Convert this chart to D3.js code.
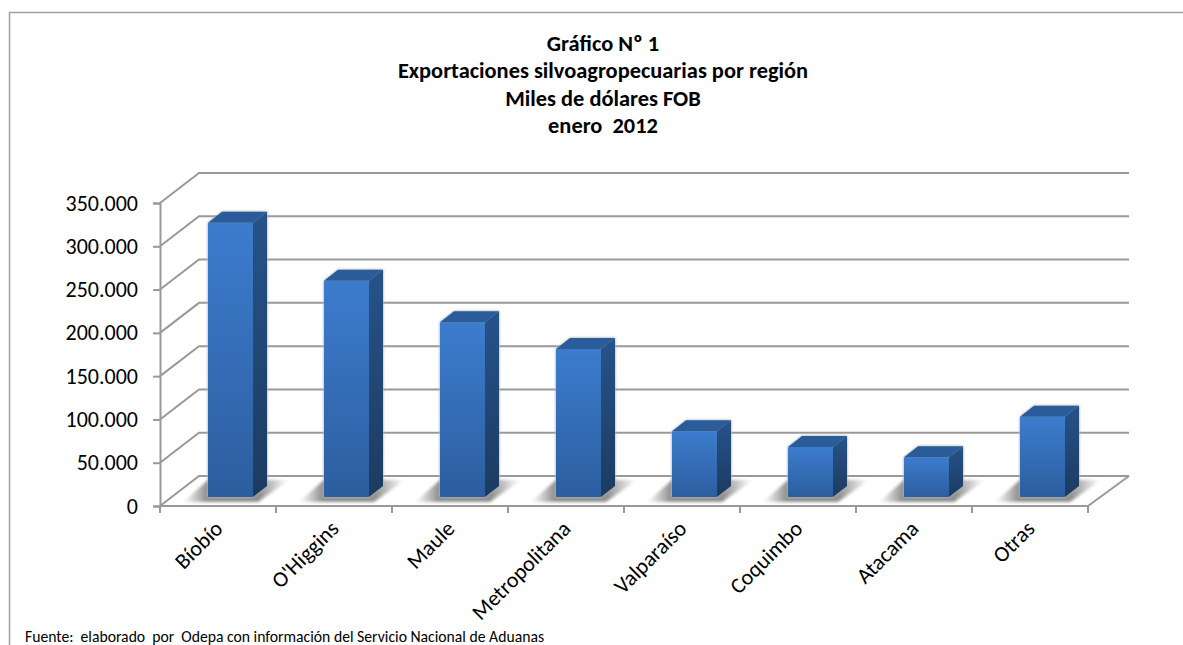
<!DOCTYPE html>
<html>
<head>
<meta charset="utf-8">
<script src="https://cdn.jsdelivr.net/npm/d3@7"></script>
<style>
  body { margin: 0; background: #fff; }
  svg { display: block; }
  text { font-family: Carlito, Lato, "Noto Sans", sans-serif; white-space: pre; }
</style>
</head>
<body>
<div id="chart"></div>
<script>
// Exportaciones por region, columnas 3D estilo Excel
var regions = ['Bíobío', "O'Higgins", 'Maule', 'Metropolitana', 'Valparaíso', 'Coquimbo', 'Atacama', 'Otras'];
var exports_ = [316800, 249800, 202000, 171000, 76000, 57800, 46000, 92700];
var yTicks = [0, 50000, 100000, 150000, 200000, 250000, 300000, 350000];
var yTickLabels = ['0', '50.000', '100.000', '150.000', '200.000', '250.000', '300.000', '350.000'];
var titleLines = ['Gráfico Nº 1', 'Exportaciones silvoagropecuarias por región', 'Miles de dólares FOB', 'enero  2012'];
var source = 'Fuente:  elaborado  por  Odepa con información del Servicio Nacional de Aduanas';

var w = 1183;
var h = 645;
var depthX = 39;   // wall offset
var depthY = 30;
var barDepthX = 14;
var barDepthY = 11;
var gridColor = '#999999';

var svg = d3.select('#chart').append('svg')
     .attr('width', w)
     .attr('height', h);

var y = d3.scaleLinear()
     .domain([0, 350000])
     .range([506, 203]);

var x = d3.scaleBand()
     .domain(regions)
     .range([160, 1088])
     .paddingInner(0.612)
     .paddingOuter(0.306);

// gradients and blur
var defs = svg.append('defs');

function vGrad(id, top, bottom) {
  var g = defs.append('linearGradient').attr('id', id)
       .attr('x1', 0).attr('y1', 0).attr('x2', 0).attr('y2', 1);
  g.append('stop').attr('offset', 0).attr('stop-color', top);
  g.append('stop').attr('offset', 1).attr('stop-color', bottom);
}
vGrad('front', '#3c7cce', '#2c5e9e');
vGrad('side', '#26538a', '#1c3b60');

defs.append('filter').attr('id', 'blur')
     .attr('x', '-30%').attr('y', '-60%').attr('width', '160%').attr('height', '220%')
     .append('feGaussianBlur').attr('stdDeviation', 1.5);

defs.append('filter').attr('id', 'halo')
     .attr('x', '-30%').attr('y', '-30%').attr('width', '160%').attr('height', '160%')
     .append('feGaussianBlur').attr('stdDeviation', 1.2);

var shadowGrad = defs.append('linearGradient').attr('id', 'shadow')
     .attr('x1', 0).attr('y1', 0).attr('x2', 1).attr('y2', 0);
shadowGrad.append('stop').attr('offset', 0).attr('stop-color', '#a0a0a0').attr('stop-opacity', 0);
shadowGrad.append('stop').attr('offset', 0.22).attr('stop-color', '#909090');
shadowGrad.append('stop').attr('offset', 0.72).attr('stop-color', '#909090');
shadowGrad.append('stop').attr('offset', 1).attr('stop-color', '#a0a0a0').attr('stop-opacity', 0);

// outer frame
svg.append('path')
     .attr('d', 'M9.5,645V12.5H1183')
     .attr('fill', 'none')
     .attr('stroke', '#a0a0a0')
     .attr('stroke-width', 1.5);

// title
svg.append('g').selectAll('text')
     .data(titleLines)
     .enter()
     .append('text')
     .attr('x', 603)
     .attr('y', (d, i) => 51 + i * 27.3)
     .attr('text-anchor', 'middle')
     .attr('font-size', 22.4)
     .attr('font-weight', 'bold')
     .attr('fill', '#000')
     .text(d => d);

// back wall lines and the slanted side wall
var grid = svg.append('g')
     .attr('fill', 'none')
     .attr('stroke', gridColor)
     .attr('stroke-width', 2);

grid.selectAll('path')
     .data(yTicks)
     .enter()
     .append('path')
     .attr('d', d => 'M160,' + y(d) + 'L' + (160 + depthX) + ',' + (y(d) - depthY) + 'H1129');

// floor edge on the right
grid.append('path')
     .attr('d', 'M1088,506L1129,' + (506 - depthY));

// y axis
var yAxis = d3.axisLeft(y)
     .tickValues(yTicks)
     .tickFormat((d, i) => yTickLabels[i])
     .tickSize(7)
     .tickPadding(15);

var yG = svg.append('g')
     .attr('transform', 'translate(160,0)')
     .call(yAxis);
yG.selectAll('.domain, line').attr('stroke', gridColor).attr('stroke-width', 2);
yG.selectAll('text').attr('font-size', 22).attr('fill', '#000');

// x axis, ticks between the categories
var xEdges = regions.map(d => x(d) - x.step() * x.paddingInner() / 2).concat([1088]);
var xG = svg.append('g').attr('stroke', gridColor).attr('stroke-width', 2);
xG.append('line').attr('x1', 160).attr('x2', 1088).attr('y1', 506).attr('y2', 506);
xG.selectAll('.tick')
     .data(xEdges)
     .enter()
     .append('line')
     .attr('class', 'tick')
     .attr('x1', d => d).attr('x2', d => d)
     .attr('y1', 506).attr('y2', 513);

// category labels
svg.append('g').selectAll('text')
     .data(regions)
     .enter()
     .append('text')
     .attr('text-anchor', 'end')
     .attr('font-size', 22)
     .attr('fill', '#000')
     .attr('transform', d => 'translate(' + (x(d) + x.bandwidth() / 2 + 6) + ',530) rotate(-45)')
     .text(d => d);

// bars
var baseY = 497;
function barTop(d) { return baseY - (y(0) - y(d)); }
var bars = svg.append('g').selectAll('g')
     .data(regions.map((r, i) => ({ region: r, value: exports_[i] })))
     .enter()
     .append('g')
     .attr('transform', d => 'translate(' + (x(d.region) + 12.5) + ',0)');

var bw = x.bandwidth();

// floor shadow
bars.append('path')
     .attr('d', 'M-25,' + (baseY + 5) + 'L' + (bw + 5) + ',' + (baseY + 5) + 'L' + (bw + 36) + ',' + (baseY - 17) + 'L0,' + (baseY - 17) + 'Z')
     .attr('fill', 'url(#shadow)')
     .attr('filter', 'url(#blur)');

// soft edge round the column
bars.append('path')
     .attr('d', d => 'M0,' + baseY + 'V' + barTop(d.value) + 'l' + barDepthX + ',' + (-barDepthY) + 'h' + bw + 'V' + (baseY - barDepthY) + 'l' + (-barDepthX) + ',' + barDepthY + 'Z')
     .attr('fill', '#b5b5b5')
     .attr('stroke', '#b5b5b5')
     .attr('filter', 'url(#halo)');

bars.append('rect')
     .attr('x', 0)
     .attr('y', d => barTop(d.value))
     .attr('width', bw)
     .attr('height', d => baseY - barTop(d.value))
     .attr('rx', 1)
     .attr('fill', 'url(#front)');

bars.append('path')
     .attr('d', d => 'M' + bw + ',' + barTop(d.value) + 'l' + barDepthX + ',' + (-barDepthY) + 'V' + (baseY - barDepthY) + 'l' + (-barDepthX) + ',' + barDepthY + 'Z')
     .attr('fill', 'url(#side)');

bars.append('path')
     .attr('d', d => 'M0,' + barTop(d.value) + 'l' + barDepthX + ',' + (-barDepthY) + 'h' + bw + 'l' + (-barDepthX) + ',' + barDepthY + 'Z')
     .attr('fill', '#2b5c9a');

// source note
svg.append('text')
     .attr('x', 25)
     .attr('y', 642)
     .attr('font-size', 15.7)
     .attr('fill', '#000')
     .text(source);
</script>
</body>
</html>
